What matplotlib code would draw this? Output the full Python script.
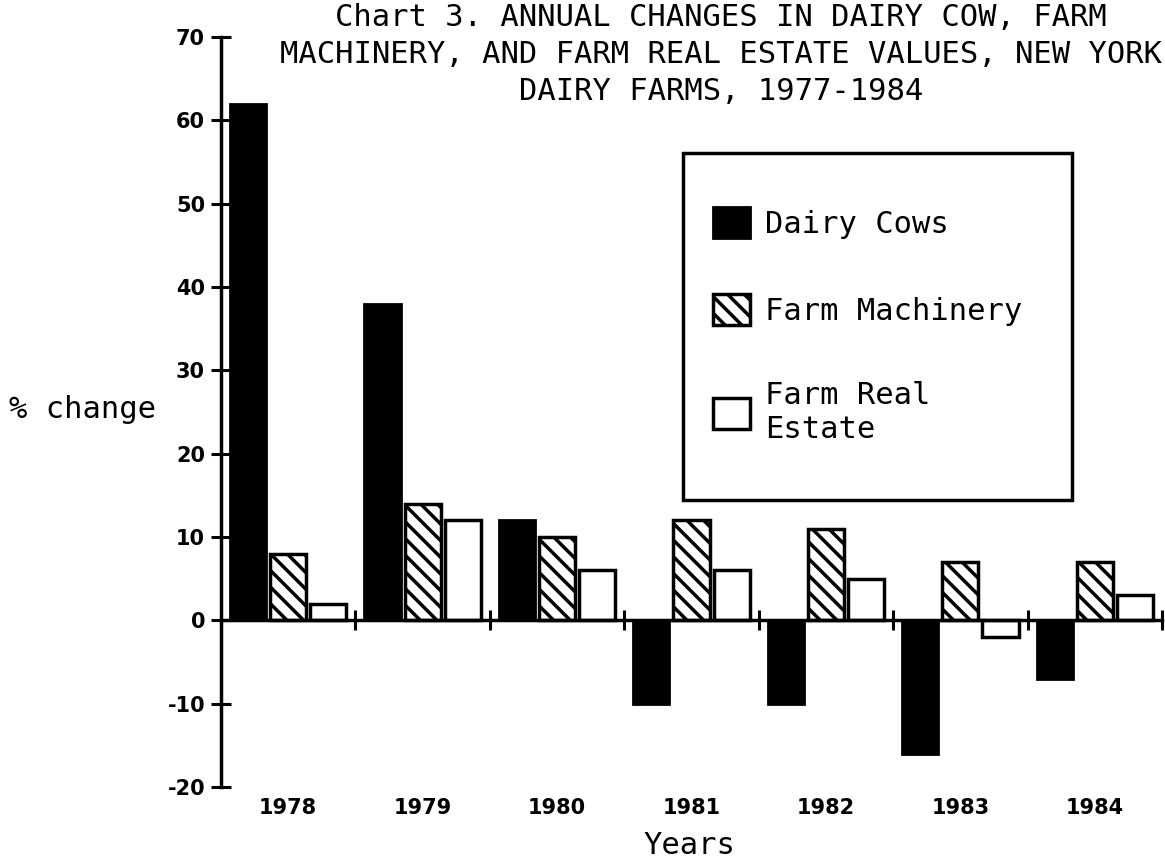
import numpy as np
import matplotlib.pyplot as plt
from matplotlib.patches import Rectangle, Patch

years = ['1978', '1979', '1980', '1981', '1982', '1983', '1984']
dairy_cows = [62, 38, 12, -10, -10, -16, -7]
farm_machinery = [8, 14, 10, 12, 11, 7, 7]
farm_real_estate = [2, 12, 6, 6, 5, -2, 3]
y_ticks = [-20, -10, 0, 10, 20, 30, 40, 50, 60, 70]

title = ("Chart 3. ANNUAL CHANGES IN DAIRY COW, FARM\n"
         "MACHINERY, AND FARM REAL ESTATE VALUES, NEW YORK\n"
         "DAIRY FARMS, 1977-1984")

plt.rcParams['hatch.linewidth'] = 2.5
mono = 'DejaVu Sans Mono'
narrow = ['Liberation Sans Narrow', 'DejaVu Sans']

fig = plt.figure(figsize=(11.65, 8.63), dpi=100)
ax = fig.add_axes([0.1897, 0.0881, 0.8077, 0.869])

x = np.arange(len(years)) + 0.5
step = 0.2985
width = 0.269
ax.bar(x - step, dairy_cows, width, color='black', edgecolor='black', linewidth=2)
ax.bar(x, farm_machinery, width, color='white', edgecolor='black', linewidth=2.5, hatch='\\\\')
ax.bar(x + step, farm_real_estate, width, color='white', edgecolor='black', linewidth=2.5)

ax.set_xlim(0, len(years))
ax.set_ylim(-20, 70)

for s in ['top', 'right']:
    ax.spines[s].set_visible(False)
ax.spines['left'].set_position(('data', 0))
ax.spines['bottom'].set_position(('data', 0))
ax.spines['left'].set_linewidth(2.5)
ax.spines['bottom'].set_linewidth(2.5)

ax.set_yticks(y_ticks)
ax.set_yticklabels([str(t) for t in y_ticks], family=narrow, fontweight='bold', fontsize=15)
ax.tick_params(axis='y', direction='inout', length=15, width=2.2, pad=4)

ax.set_xticks(np.arange(1, len(years) + 1))
ax.set_xticklabels([])
ax.tick_params(axis='x', direction='inout', length=14, width=2.2)

for xi, yr in zip(x, years):
    ax.text(xi, -0.015, yr, transform=ax.get_xaxis_transform(), ha='center', va='top',
            family=narrow, fontweight='bold', fontsize=15)

fig.text(0.592, 0.02, 'Years', ha='center', va='center', family=mono, fontsize=22)
fig.text(0.071, 0.525, '% change', ha='center', va='center', family=mono, fontsize=22)
fig.text(0.619, 0.997, title, ha='center', va='top', family=mono, fontsize=22, linespacing=1.35)

fig.add_artist(Rectangle((0.586, 0.4206), 0.334, 0.402, transform=fig.transFigure,
                         fill=False, edgecolor='black', linewidth=2.5))
handles = [Patch(facecolor='black', edgecolor='black', linewidth=2),
           Patch(facecolor='white', edgecolor='black', linewidth=2.5, hatch='\\\\'),
           Patch(facecolor='white', edgecolor='black', linewidth=2.5)]
labels = ['Dairy Cows', 'Farm Machinery', 'Farm Real\nEstate']
fig.legend(handles, labels, loc='upper left', bbox_to_anchor=(0.612, 0.76),
           frameon=False, borderpad=0, borderaxespad=0, handlelength=1.2, handleheight=1.2,
           handletextpad=0.5, labelspacing=1.8, prop={'family': mono, 'size': 22})

fig.savefig('out.png', dpi=100)
